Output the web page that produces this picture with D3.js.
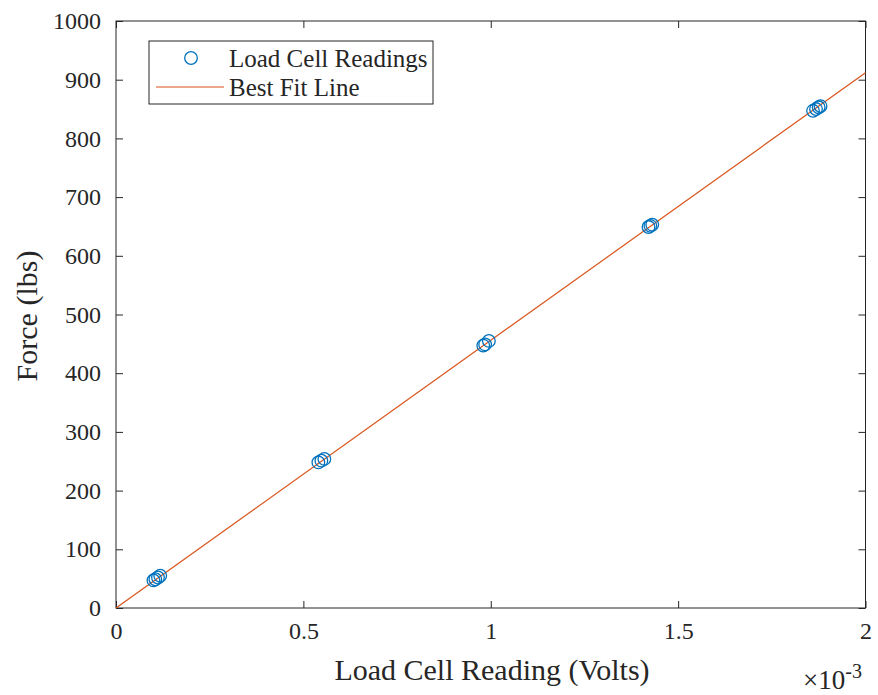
<!DOCTYPE html>
<html>
<head>
<meta charset="utf-8">
<script src="https://cdn.jsdelivr.net/npm/d3@7"></script>
<style>
  html, body { margin: 0; padding: 0; background: #fff; }
  svg { display: block; }
  text { font-family: "Liberation Serif", "Times New Roman", serif; fill: #262626; }
</style>
</head>
<body>
<svg id="chart" width="878" height="695"></svg>
<script>
// Load cell calibration readings (volts) and applied force (lbs)
const readingsVolts = [
  0.100e-3, 0.105e-3, 0.112e-3, 0.118e-3,
  0.540e-3, 0.548e-3, 0.556e-3,
  0.980e-3, 0.985e-3, 0.995e-3,
  1.421e-3, 1.426e-3, 1.431e-3,
  1.860e-3, 1.868e-3, 1.875e-3, 1.880e-3
];
const forceLbs = [
  47, 49, 52, 55,
  248, 251, 254,
  447, 449, 455,
  649, 651, 653,
  847, 850, 853, 855
];
// Linear fit: force = slope * volts + intercept
const fitSlope = 456000;
const fitIntercept = 0;
const fitRange = [0, 2e-3];

const xTicks = [0, 0.5e-3, 1e-3, 1.5e-3, 2e-3];
const xTickLabels = ["0", "0.5", "1", "1.5", "2"];
const yTicks = [0, 100, 200, 300, 400, 500, 600, 700, 800, 900, 1000];

const xLabel = "Load Cell Reading (Volts)";
const yLabel = "Force (lbs)";
const seriesNames = ["Load Cell Readings", "Best Fit Line"];

const blue = "#0072BD", orange = "#D95319", axisCol = "#262626";

const svg = d3.select("#chart");
const m = { left: 116, right: 865.5, top: 21, bottom: 608 };

const x = d3.scaleLinear().domain([0, 2e-3]).range([m.left, m.right]);
const y = d3.scaleLinear().domain([0, 1000]).range([m.bottom, m.top]);

const tickLen = 7;
const tickFont = "24px";

// Axes: bottom/left with labels, top/right mirrored ticks only
const styleAxis = g => {
  g.selectAll(".domain").remove();
  g.selectAll(".tick line").attr("stroke", axisCol).attr("stroke-width", 1);
  g.selectAll(".tick text").style("font-size", tickFont).attr("fill", axisCol);
};

svg.append("g").attr("transform", `translate(0,${m.bottom})`)
  .call(d3.axisBottom(x).tickValues(xTicks).tickFormat((d, i) => xTickLabels[i])
    .tickSizeInner(-tickLen).tickSizeOuter(0).tickPadding(14))
  .call(styleAxis);

svg.append("g").attr("transform", `translate(${m.left},0)`)
  .call(d3.axisLeft(y).tickValues(yTicks).tickFormat(d3.format("d"))
    .tickSizeInner(-tickLen).tickSizeOuter(0).tickPadding(15))
  .call(styleAxis);

svg.append("g").attr("transform", `translate(0,${m.top})`)
  .call(d3.axisTop(x).tickValues(xTicks).tickFormat("").tickSizeInner(-tickLen).tickSizeOuter(0))
  .call(styleAxis);

svg.append("g").attr("transform", `translate(${m.right},0)`)
  .call(d3.axisRight(y).tickValues(yTicks).tickFormat("").tickSizeInner(-tickLen).tickSizeOuter(0))
  .call(styleAxis);

// Box
svg.append("rect")
  .attr("x", m.left).attr("y", m.top)
  .attr("width", m.right - m.left).attr("height", m.bottom - m.top)
  .attr("fill", "none").attr("stroke", axisCol).attr("stroke-width", 1);

// Best fit line
const line = d3.line().x(d => x(d)).y(d => y(fitSlope * d + fitIntercept));
svg.append("path").datum(fitRange)
  .attr("d", line).attr("fill", "none")
  .attr("stroke", orange).attr("stroke-width", 1.2);

// Readings
svg.append("g").selectAll("circle")
  .data(readingsVolts.map((v, i) => [v, forceLbs[i]]))
  .join("circle")
  .attr("cx", d => x(d[0])).attr("cy", d => y(d[1]))
  .attr("r", 6.3).attr("fill", "none")
  .attr("stroke", blue).attr("stroke-width", 1.3);

// Axis titles
svg.append("text")
  .attr("x", 492).attr("y", 680)
  .attr("text-anchor", "middle").style("font-size", "30px")
  .text(xLabel);

svg.append("text")
  .attr("transform", `translate(37,316) rotate(-90)`)
  .attr("text-anchor", "middle").style("font-size", "30px")
  .text(yLabel);

// Exponent marker
const expo = svg.append("text")
  .attr("x", 862).attr("y", 689)
  .attr("text-anchor", "end").style("font-size", "27px");
expo.append("tspan").text("\u00d710");
expo.append("tspan").attr("dy", -11).style("font-size", "20px").text("-3");

// Legend
const lg = svg.append("g");
lg.append("rect")
  .attr("x", 149).attr("y", 41).attr("width", 284).attr("height", 63)
  .attr("fill", "#fff").attr("stroke", axisCol).attr("stroke-width", 1);
lg.append("circle").attr("cx", 191).attr("cy", 58).attr("r", 6.3)
  .attr("fill", "none").attr("stroke", blue).attr("stroke-width", 1.3);
lg.append("line").attr("x1", 156).attr("x2", 224).attr("y1", 87).attr("y2", 87)
  .attr("stroke", orange).attr("stroke-width", 1.2);
lg.append("text").attr("x", 229).attr("y", 67).style("font-size", "25px").text(seriesNames[0]);
lg.append("text").attr("x", 229).attr("y", 96).style("font-size", "25px").text(seriesNames[1]);
</script>
</body>
</html>
